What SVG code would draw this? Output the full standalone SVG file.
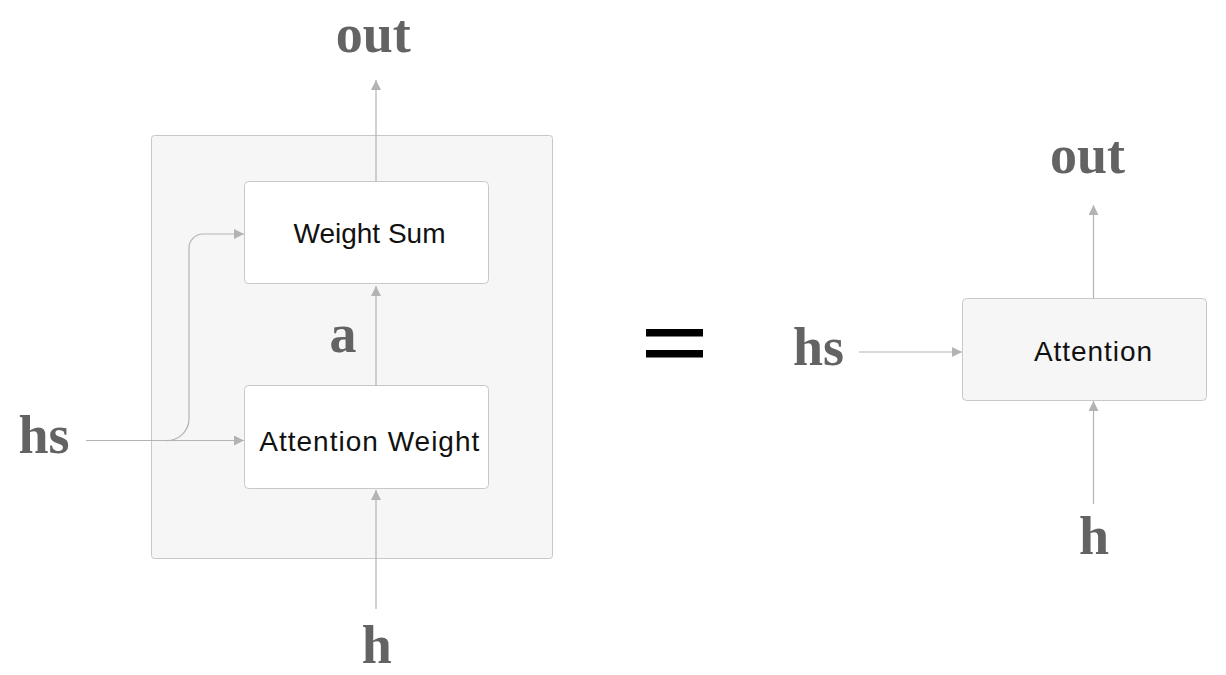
<svg xmlns="http://www.w3.org/2000/svg" width="1226" height="675" viewBox="0 0 1226 675">
<defs>
<marker id="arr" markerUnits="userSpaceOnUse" markerWidth="10" markerHeight="10" refX="10" refY="5" orient="auto">
<path d="M0,0 L10,5 L0,10 z" fill="#b3b3b3"/>
</marker>
<style>
.lbl{font-family:"Liberation Serif",serif;font-weight:bold;font-size:54px;fill:#636363;text-anchor:middle}
.txt{font-family:"Liberation Sans",Arial,sans-serif;font-size:28px;fill:#111;text-anchor:middle}
.box{fill:#ffffff;stroke:#c8c8c8;stroke-width:1}
.gbox{fill:#f5f6f5;stroke:#c8c8c8;stroke-width:1}
.con{fill:none;stroke:#b3b3b3;stroke-width:1.2}
</style>
</defs>
<rect width="1226" height="675" fill="#ffffff"/>
<g id="container"><rect class="gbox" x="151.5" y="135.5" width="401" height="423" rx="3"/></g>
<g id="weightsum"><rect class="box" x="244.5" y="181.5" width="244" height="102" rx="4"/><text class="txt" x="369.5" y="243.3">Weight Sum</text></g>
<g id="attweight"><rect class="box" x="244.5" y="385.5" width="244" height="103" rx="4"/><text class="txt" x="369.3" y="450.7" textLength="220" lengthAdjust="spacing">Attention Weight</text></g>
<g id="attention"><rect class="gbox" x="962.5" y="298.5" width="244" height="102" rx="4"/><text class="txt" x="1093" y="361" textLength="118" lengthAdjust="spacing">Attention</text></g>
<g id="connectors">
<path class="con" d="M376,181.5 L376,80" marker-end="url(#arr)"/>
<path class="con" d="M376,385.5 L376,286" marker-end="url(#arr)"/>
<path class="con" d="M376,609 L376,490" marker-end="url(#arr)"/>
<path class="con" d="M86,440.5 L244,440.5" marker-end="url(#arr)"/>
<path class="con" d="M166,440.5 A22,22 0 0 0 189,419 L189,248 A14,14 0 0 1 203,234 L244,234" marker-end="url(#arr)"/>
<path class="con" d="M1093.5,298 L1093.5,205" marker-end="url(#arr)"/>
<path class="con" d="M859,352 L962,352" marker-end="url(#arr)"/>
<path class="con" d="M1093.5,504 L1093.5,401" marker-end="url(#arr)"/>
</g>
<g id="labels">
<text class="lbl" x="373.3" y="52">out</text>
<text class="lbl" x="343" y="351.5">a</text>
<text class="lbl" x="44" y="453">hs</text>
<text class="lbl" x="376.7" y="662.7">h</text>
<text class="lbl" x="818.5" y="365">hs</text>
<text class="lbl" x="1087.5" y="172.7">out</text>
<text class="lbl" x="1094" y="554">h</text>
</g>
<g id="equals">
<rect x="646" y="329" width="57" height="7.5" fill="#000"/>
<rect x="646" y="350" width="57" height="7.5" fill="#000"/>
</g>
</svg>
